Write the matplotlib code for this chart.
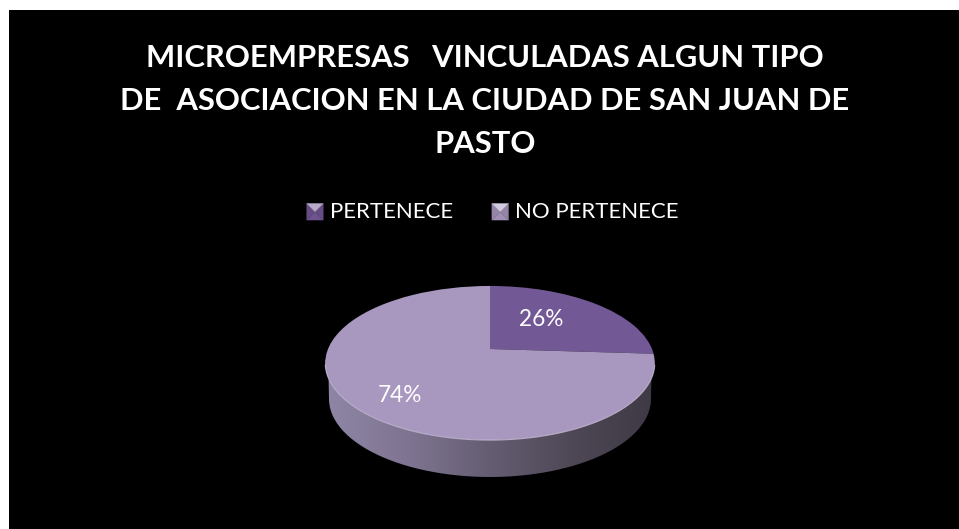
import matplotlib

matplotlib.use("Agg")

import matplotlib.pyplot as plt
import numpy as np
from matplotlib.colors import LinearSegmentedColormap, to_rgb
from matplotlib.legend_handler import HandlerBase
from matplotlib.patches import Patch, PathPatch, Polygon
from matplotlib.path import Path
from matplotlib.transforms import Transform

# Chart data
title = (
    "MICROEMPRESAS   VINCULADAS ALGUN TIPO\n"
    "DE  ASOCIACION EN LA CIUDAD DE SAN JUAN DE\n"
    "PASTO"
)
categories = ["PERTENECE", "NO PERTENECE"]
values = [26, 74]

# Colours
slice_colors = ["#735896", "#a897bf"]
side_colors = ["#8f86a6", "#7f7592", "#655d72", "#4e4856", "#3e3944"]

plt.rcParams["font.family"] = ["Lato", "DejaVu Sans"]


class TiltedDisc(Transform):
    """Perspective map from the unit circle of the pie to pixel coordinates."""

    input_dims = 2
    output_dims = 2

    def __init__(self, cx=490.0, cy=349.0, radius=162.0, squash=-11.0, persp=0.182):
        super().__init__()
        self.cx, self.cy, self.radius = cx, cy, radius
        self.squash, self.persp = squash, persp

    def transform_non_affine(self, values):
        pts = np.asarray(values, dtype=float)
        w = 1 + self.persp * pts[:, 1]
        x = self.cx + self.radius * pts[:, 0] / w
        y = (self.cy + self.squash * pts[:, 1]) / w
        return np.column_stack([x, y])


class BevelHandler(HandlerBase):
    """Legend key drawn as a small bevelled square."""

    def create_artists(self, legend, orig_handle, xdescent, ydescent, width, height, fontsize, trans):
        base = np.array(to_rgb(orig_handle.get_facecolor()))
        x0, y0 = -xdescent, -ydescent - 1.5
        size = 12.0
        mid = (x0 + size / 2, y0 + size / 2)
        a, b, c, d = (x0, y0), (x0 + size, y0), (x0 + size, y0 + size), (x0, y0 + size)
        faces = [
            ((a, b, mid), base * 0.95),
            ((a, d, mid), base * 0.88),
            ((b, c, mid), base * 0.88),
            ((d, c, mid), base + (1 - base) * 0.5),
        ]
        artists = []
        for pts, color in faces:
            artists.append(Polygon(pts, closed=True, facecolor=color, edgecolor=color, lw=0.2, transform=trans))
        return artists


fig = plt.figure(figsize=(9.59, 5.29), dpi=100, facecolor="white")
ax = fig.add_axes([0, 0, 1, 1])
ax.patch.set_visible(False)

# Black chart area, with a white margin on the top and left
disc = TiltedDisc()
ax.imshow([[0.0]], extent=(9, 959, 529, 10), cmap="gray", vmin=0, vmax=1, zorder=0, aspect="auto")

# Side wall of the pie
angles = np.radians(np.linspace(180, 360, 120))
rim = disc.transform_non_affine(np.column_stack([np.cos(angles), np.sin(angles)]))
bottom_x = 490 + 161 * np.cos(angles)
bottom_y = 399 - 78 * np.sin(angles)
wall = np.vstack([rim, np.column_stack([bottom_x, bottom_y])[::-1]])
wall_patch = PathPatch(Path(wall), facecolor="none", edgecolor="none", transform=ax.transData)
ax.add_patch(wall_patch)
side_cmap = LinearSegmentedColormap.from_list("side", side_colors)
shade = np.linspace(0, 1, 256)[None, :]
wall_img = ax.imshow(shade, extent=(324, 655, 480, 360), cmap=side_cmap, zorder=1, aspect="auto")
wall_img.set_clip_path(wall_patch)

# Top of the pie
wedges, _ = ax.pie(values, colors=slice_colors, startangle=90, counterclock=False)
for wedge in wedges:
    wedge.set_transform(disc + ax.transData)
    wedge.set_zorder(2)

# Light edge along the front of the top surface
ax.plot(rim[8:-8, 0], rim[8:-8, 1], color="#c9bfd8", lw=0.8, alpha=0.8, zorder=3)

ax.set_aspect("auto")
ax.set_xlim(0, 959)
ax.set_ylim(529, 0)
ax.axis("off")

# Percentage labels
ax.text(541.5, 320, f"{values[0]}%", color="white", fontsize=16.3, ha="center", va="center", zorder=4)
ax.text(400, 396, f"{values[1]}%", color="white", fontsize=16.3, ha="center", va="center", zorder=4)

ax.text(
    485, 101, title, color="white", fontsize=22.3, fontweight="bold",
    ha="center", va="center", linespacing=1.66, zorder=4,
)

handles = [Patch(facecolor=c, label=n) for c, n in zip(slice_colors, categories)]
leg = ax.legend(
    handles=handles,
    handler_map={Patch: BevelHandler()},
    loc="center",
    bbox_to_anchor=(492.5 / 959, 1 - 212 / 529),
    ncol=2,
    frameon=False,
    fontsize=16,
    labelcolor="white",
    handlelength=0.9,
    handletextpad=0.135,
    columnspacing=1.76,
)
leg.set_zorder(4)

fig.savefig("out.png", dpi=100, facecolor="white")
